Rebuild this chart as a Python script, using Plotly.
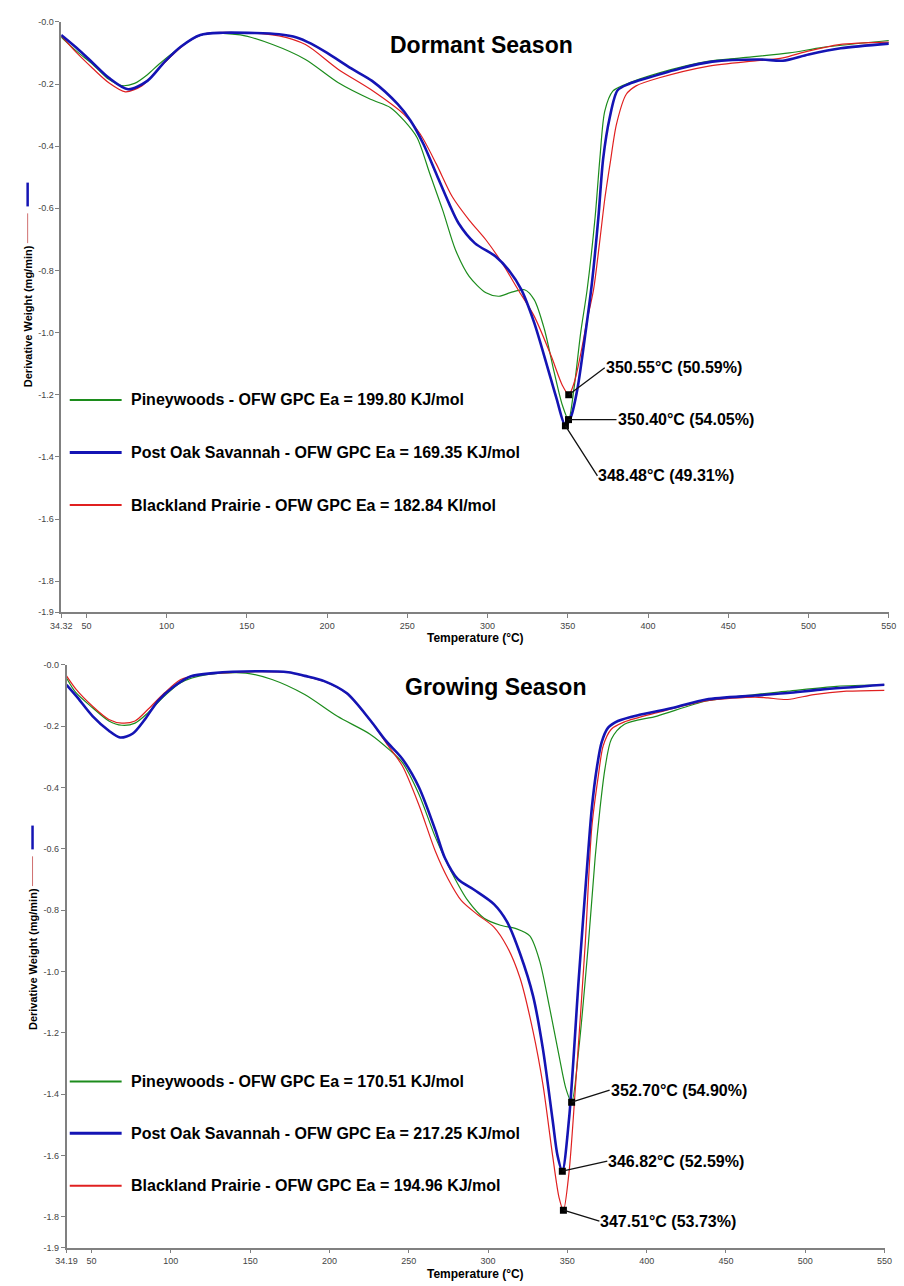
import plotly.graph_objects as go

W, H = 904, 1286

# ---------------- data: Dormant season ----------------
dorm_pine_T = [34.32, 44, 54, 64, 72, 80, 88, 95, 105, 115, 125, 146, 166, 186.5, 207, 227, 239.5, 248, 256, 264, 272, 280, 288.5, 299, 307, 315, 323, 329, 335.4, 341.5, 346.6, 350.4, 353.8, 358, 362, 367, 370, 373, 378, 386, 407, 437, 458, 488, 509, 550]
dorm_pine_v = [-0.049, -0.095, -0.137, -0.185, -0.205, -0.198, -0.17, -0.137, -0.095, -0.058, -0.038, -0.042, -0.073, -0.121, -0.196, -0.249, -0.276, -0.318, -0.372, -0.489, -0.606, -0.734, -0.819, -0.872, -0.883, -0.87, -0.862, -0.894, -0.99, -1.128, -1.234, -1.28, -1.181, -1.0, -0.862, -0.627, -0.436, -0.287, -0.223, -0.201, -0.164, -0.127, -0.116, -0.10, -0.082, -0.06]

dorm_black_T = [34.32, 44, 54, 64, 74.3, 84.5, 94.7, 104.9, 115, 125, 150, 170, 186.5, 207, 227, 247.7, 258, 268, 278, 288.5, 299, 309, 319, 329, 339.5, 346.6, 350.55, 354, 357.8, 362, 366, 370, 373, 376.3, 380.3, 386.4, 392.5, 407, 437, 468, 484, 499, 519, 550]
dorm_black_v = [-0.045, -0.10, -0.15, -0.196, -0.225, -0.206, -0.153, -0.10, -0.058, -0.037, -0.035, -0.045, -0.073, -0.153, -0.217, -0.297, -0.361, -0.457, -0.563, -0.638, -0.702, -0.776, -0.862, -0.947, -1.074, -1.17, -1.20, -1.16, -1.074, -0.96, -0.862, -0.70, -0.57, -0.457, -0.329, -0.233, -0.206, -0.18, -0.143, -0.125, -0.116, -0.095, -0.073, -0.065]

dorm_post_T = [34.32, 44, 54, 64, 76, 88, 99, 109, 121, 135, 155, 170, 181, 190, 200, 215, 228, 244, 252, 260, 268, 276, 282, 292, 305, 313, 321, 329, 337, 343, 348.48, 352, 356, 361, 365, 369, 372, 376, 381, 388, 400, 420, 440, 470, 484, 500, 520, 550]
dorm_post_v = [-0.042, -0.084, -0.132, -0.18, -0.217, -0.19, -0.127, -0.079, -0.042, -0.035, -0.036, -0.040, -0.05, -0.07, -0.10, -0.15, -0.19, -0.265, -0.318, -0.393, -0.489, -0.585, -0.649, -0.712, -0.755, -0.798, -0.862, -0.968, -1.106, -1.213, -1.30, -1.27, -1.18, -1.0, -0.84, -0.63, -0.44, -0.31, -0.22, -0.20, -0.18, -0.15, -0.128, -0.121, -0.125, -0.105, -0.085, -0.07]

# ---------------- data: Growing season ----------------
grow_pine_T = [34.19, 40, 50.6, 60.9, 69.1, 77.4, 85.6, 95.9, 106.2, 122.6, 147.3, 163.8, 184.4, 205, 225.6, 238, 246, 256.4, 266.7, 277, 287.3, 297.5, 307.8, 318, 326.3, 332.5, 338.7, 344.8, 349, 352.7, 357.2, 363.3, 367.5, 370.6, 373.7, 377.8, 386, 406.6, 437.5, 468.3, 488.9, 519.8, 550]
grow_pine_v = [-0.043, -0.09, -0.14, -0.183, -0.197, -0.19, -0.156, -0.102, -0.058, -0.032, -0.027, -0.048, -0.097, -0.168, -0.226, -0.278, -0.319, -0.422, -0.561, -0.676, -0.769, -0.826, -0.849, -0.861, -0.884, -0.965, -1.115, -1.276, -1.38, -1.426, -1.253, -0.907, -0.63, -0.468, -0.339, -0.242, -0.194, -0.167, -0.118, -0.097, -0.086, -0.07, -0.065]

grow_black_T = [34.19, 40.4, 50.6, 60.9, 69.1, 77.4, 85.6, 95.9, 106.2, 118.5, 130, 153.5, 174, 184.4, 196.7, 211, 225.6, 235.8, 246, 256.4, 266.7, 274.9, 283.2, 293.5, 303.7, 312, 320.2, 328.4, 334.6, 340.7, 344.8, 347.51, 351, 355.2, 361.3, 365.4, 369.5, 372.6, 377.7, 386, 406.6, 437.5, 468.3, 476.5, 488.9, 505.4, 526, 550]
grow_black_v = [-0.036, -0.081, -0.135, -0.178, -0.19, -0.183, -0.145, -0.092, -0.048, -0.032, -0.027, -0.022, -0.025, -0.037, -0.054, -0.094, -0.18, -0.255, -0.33, -0.457, -0.607, -0.699, -0.769, -0.815, -0.855, -0.919, -1.022, -1.196, -1.369, -1.6, -1.738, -1.778, -1.657, -1.369, -0.907, -0.53, -0.363, -0.264, -0.21, -0.186, -0.156, -0.118, -0.105, -0.108, -0.113, -0.097, -0.086, -0.083]

grow_post_T = [34.19, 40.4, 50.6, 60.9, 68, 76, 83.6, 91.8, 102.1, 112.3, 126.8, 153.5, 174, 184.4, 196.7, 211, 225.6, 235.8, 246, 256.4, 266.7, 272.8, 281, 291.4, 303.7, 312, 320.2, 328.4, 334.6, 340.7, 343.8, 346.82, 351, 357.2, 363.3, 365.4, 368.5, 371.6, 375.7, 381.9, 396.3, 416.9, 437.5, 468.3, 488.9, 509.5, 550]
grow_post_v = [-0.065, -0.102, -0.167, -0.215, -0.237, -0.224, -0.178, -0.118, -0.07, -0.038, -0.027, -0.021, -0.024, -0.036, -0.053, -0.093, -0.18, -0.249, -0.307, -0.399, -0.538, -0.63, -0.699, -0.734, -0.78, -0.838, -0.942, -1.08, -1.253, -1.484, -1.6, -1.651, -1.484, -1.022, -0.6, -0.468, -0.339, -0.253, -0.205, -0.183, -0.162, -0.14, -0.113, -0.1, -0.092, -0.081, -0.065]

# ---------------- labels ----------------
titles = ["Dormant Season", "Growing Season"]
dorm_legend = ["Pineywoods - OFW GPC Ea = 199.80 KJ/mol",
               "Post Oak Savannah - OFW GPC Ea = 169.35 KJ/mol",
               "Blackland Prairie - OFW GPC Ea = 182.84 KI/mol"]
grow_legend = ["Pineywoods - OFW GPC Ea = 170.51 KJ/mol",
               "Post Oak Savannah - OFW GPC Ea = 217.25 KJ/mol",
               "Blackland Prairie - OFW GPC Ea = 194.96 KJ/mol"]
# peaks: (T, value, label)
dorm_peaks = [(350.55, -1.20, "350.55°C (50.59%)"),
              (350.40, -1.28, "350.40°C (54.05%)"),
              (348.48, -1.30, "348.48°C (49.31%)")]
grow_peaks = [(352.70, -1.426, "352.70°C (54.90%)"),
              (346.82, -1.651, "346.82°C (52.59%)"),
              (347.51, -1.778, "347.51°C (53.73%)")]
dorm_xmin, grow_xmin = 34.32, 34.19
xticks = [50, 100, 150, 200, 250, 300, 350, 400, 450, 500, 550]
yticks = [0, -0.2, -0.4, -0.6, -0.8, -1.0, -1.2, -1.4, -1.6, -1.8, -1.9]
yticktext = ["-0.0", "-0.2", "-0.4", "-0.6", "-0.8", "-1.0", "-1.2", "-1.4", "-1.6", "-1.8", "-1.9"]

GREEN = "#1c8c1c"
BLUE = "#1414b4"
RED = "#e02020"
FONT = "Liberation Sans, Arial"

def px(x):
    return x / W

def py(y):
    return 1 - y / H

fig = go.Figure()

panels = [
    dict(xa="x", ya="y", xmin=dorm_xmin, T=[dorm_pine_T, dorm_black_T, dorm_post_T],
         v=[dorm_pine_v, dorm_black_v, dorm_post_v], dom_x=[51.3, 896.7], dom_y=[17, 612],
         legend=dorm_legend, peaks=dorm_peaks, title=titles[0], title_xy=(481, 40),
         leg_y=[398, 451, 504], xtitle_y=638, ylab_x=17, peak_off=[(36, -27), (48, 0), (32, 50)]),
    dict(xa="x2", ya="y2", xmin=grow_xmin, T=[grow_pine_T, grow_black_T, grow_post_T],
         v=[grow_pine_v, grow_black_v, grow_post_v], dom_x=[56.7, 892.3], dom_y=[665, 1252.3],
         legend=grow_legend, peaks=grow_peaks, title=titles[1], title_xy=(495, 687),
         leg_y=[1085, 1137, 1190], xtitle_y=1279, ylab_x=22, peak_off=[(38, -12), (45, -10), (36, 11)]),
]

annotations = []
shapes = []
layout_axes = {}
for i, p in enumerate(panels):
    colors = [GREEN, RED, BLUE]
    widths = [1.2, 1.2, 2.6]
    names = [p["legend"][0], p["legend"][2], p["legend"][1]]
    for T, v, c, w, n in zip(p["T"], p["v"], colors, widths, names):
        fig.add_trace(go.Scatter(x=T, y=v, mode="lines", line=dict(color=c, width=w, shape="spline", smoothing=0.8),
                                 name=n, showlegend=False, xaxis=p["xa"], yaxis=p["ya"]))
    # peak squares
    fig.add_trace(go.Scatter(x=[pk[0] for pk in p["peaks"]], y=[pk[1] for pk in p["peaks"]], mode="markers",
                             marker=dict(symbol="square", size=7, color="black"), showlegend=False,
                             xaxis=p["xa"], yaxis=p["ya"]))
    for pk, off in zip(p["peaks"], p["peak_off"]):
        annotations.append(dict(x=pk[0], y=pk[1], xref=p["xa"], yref=p["ya"], text=f"<b>{pk[2]}</b>",
                                showarrow=True, arrowhead=0, arrowwidth=1.3, arrowcolor="#111111",
                                ax=off[0], ay=off[1], xanchor="left", yanchor="middle", borderpad=0,
                                font=dict(family=FONT, size=16, color="black")))
    xk = "xaxis" if i == 0 else "xaxis2"
    yk = "yaxis" if i == 0 else "yaxis2"
    layout_axes[xk] = dict(domain=[px(p["dom_x"][0]), px(p["dom_x"][1])], range=[p["xmin"], 550],
                           anchor=p["ya"], showline=True, linecolor="#808080", linewidth=1.5,
                           ticks="outside", ticklen=4, tickcolor="#808080", showgrid=False, zeroline=False,
                           tickvals=[p["xmin"]] + xticks, ticktext=[f"{p['xmin']:.2f}"] + [str(t) for t in xticks],
                           tickfont=dict(family=FONT, size=9, color="#444444"))
    layout_axes[yk] = dict(domain=[py(p["dom_y"][1]), py(p["dom_y"][0])], range=[-1.9, 0],
                           anchor=p["xa"], showline=True, linecolor="#808080", linewidth=1.5,
                           ticks="outside", ticklen=4, tickcolor="#808080", showgrid=False, zeroline=False,
                           tickvals=yticks, ticktext=yticktext,
                           tickfont=dict(family=FONT, size=9, color="#444444"))
    # title
    annotations.append(dict(x=px(p["title_xy"][0]), y=py(p["title_xy"][1]), xref="paper", yref="paper",
                            text=f"<b>{p['title']}</b>", showarrow=False, xanchor="center", yanchor="middle",
                            font=dict(family=FONT, size=23, color="black")))
    # x title
    annotations.append(dict(x=(px(p["dom_x"][0]) + px(p["dom_x"][1])) / 2, y=py(p["xtitle_y"]), xref="paper",
                            yref="paper", text="<b>Temperature (°C)</b>", showarrow=False, xanchor="center",
                            yanchor="middle", font=dict(family=FONT, size=12, color="black")))
    # y title + small legend marks
    top = p["dom_y"][0]
    annotations.append(dict(x=px(p["ylab_x"]), y=py(top + 297), xref="paper", yref="paper",
                            text="<b>Derivative Weight (mg/min)</b>", showarrow=False, textangle=-90,
                            xanchor="center", yanchor="middle",
                            font=dict(family=FONT, size=11, color="black")))
    shapes.append(dict(type="line", xref="paper", yref="paper", x0=px(p["ylab_x"]), x1=px(p["ylab_x"]),
                       y0=py(top + 162), y1=py(top + 186), line=dict(color=BLUE, width=2.5)))
    shapes.append(dict(type="line", xref="paper", yref="paper", x0=px(p["ylab_x"]), x1=px(p["ylab_x"]),
                       y0=py(top + 193), y1=py(top + 223), line=dict(color="#d07070", width=1)))
    # legend
    leg_colors = [GREEN, BLUE, RED]
    leg_w = [2, 3, 2]
    for txt, c, lw, ly in zip(p["legend"], leg_colors, leg_w, p["leg_y"]):
        shapes.append(dict(type="line", xref="paper", yref="paper", x0=px(60), x1=px(113), y0=py(ly), y1=py(ly),
                           line=dict(color=c, width=lw)))
        annotations.append(dict(x=px(121), y=py(ly), xref="paper", yref="paper", text=f"<b>{txt}</b>",
                                showarrow=False, xanchor="left", yanchor="middle",
                                font=dict(family=FONT, size=16, color="black")))

fig.update_layout(width=W, height=H, margin=dict(l=0, r=0, t=0, b=0), paper_bgcolor="white",
                  plot_bgcolor="white", showlegend=False, annotations=annotations, shapes=shapes,
                  **layout_axes)

fig.write_html("out.html")
